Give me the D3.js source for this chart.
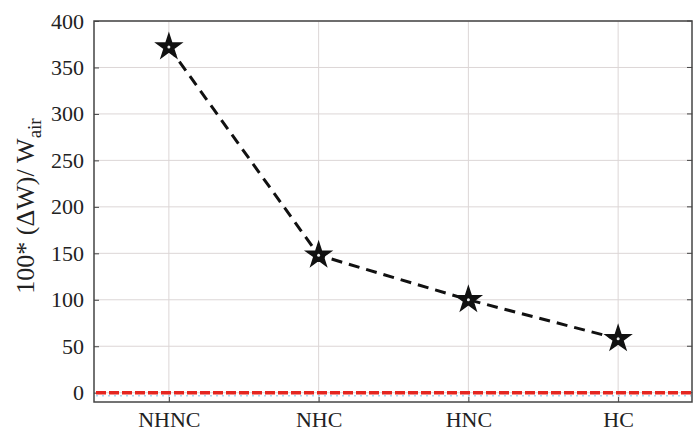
<!DOCTYPE html>
<html>
<head>
<meta charset="utf-8">
<script src="https://cdn.jsdelivr.net/npm/d3@7"></script>
<style>
  body { margin: 0; background: #fff; }
  text { font-family: "Liberation Serif", "DejaVu Serif", serif; fill: #222; }
</style>
</head>
<body>
<div id="chart"></div>
<script>
// data
var categories = ["NHNC", "NHC", "HNC", "HC"];
var values = [372, 148, 100, 58];
var baseline = [0, 0, 0, 0];
var yTicks = [0, 50, 100, 150, 200, 250, 300, 350, 400];

var width = 694, height = 434;
var margin = {top: 21, right: 1, bottom: 32, left: 94};
var w = width - margin.left - margin.right;
var h = height - margin.top - margin.bottom;

var svg = d3.select("#chart").append("svg")
    .attr("width", width)
    .attr("height", height);

var g = svg.append("g")
    .attr("transform", "translate(" + margin.left + "," + margin.top + ")");

var x = d3.scalePoint()
    .domain(categories)
    .range([0, w])
    .padding(0.5);

var y = d3.scaleLinear()
    .domain([-10, 400])
    .range([h, 0]);

//grid
g.selectAll(".hgrid")
    .data(yTicks)
    .enter().append("line")
    .attr("class", "hgrid")
    .attr("x1", 0).attr("x2", w)
    .attr("y1", function(d) { return y(d); })
    .attr("y2", function(d) { return y(d); })
    .attr("stroke", "#dcd6d6")
    .attr("stroke-width", 1);

g.selectAll(".vgrid")
    .data(categories)
    .enter().append("line")
    .attr("class", "vgrid")
    .attr("y1", 0).attr("y2", h)
    .attr("x1", function(d) { return x(d); })
    .attr("x2", function(d) { return x(d); })
    .attr("stroke", "#dcd6d6")
    .attr("stroke-width", 1);

//axes
var yAxis = d3.axisLeft(y).tickValues(yTicks).tickSize(-5).tickPadding(10);
var xAxis = d3.axisBottom(x).tickSize(-5).tickPadding(9);

var ya = g.append("g").call(yAxis);
ya.select(".domain").remove();
ya.selectAll("line").attr("stroke", "#444");
ya.selectAll("text").style("font-size", "22px").attr("fill", "#222");

var xa = g.append("g")
    .attr("transform", "translate(0," + h + ")")
    .call(xAxis);
xa.select(".domain").remove();
xa.selectAll("line").attr("stroke", "#444");
xa.selectAll("text").style("font-size", "22px").attr("fill", "#222");

//right side ticks
g.selectAll(".rtick")
    .data(yTicks)
    .enter().append("line")
    .attr("class", "rtick")
    .attr("x1", w - 1).attr("x2", w - 6)
    .attr("y1", function(d) { return y(d); })
    .attr("y2", function(d) { return y(d); })
    .attr("stroke", "#444");

//box
g.append("rect")
    .attr("x", 0).attr("y", 0)
    .attr("width", w - 1).attr("height", h)
    .attr("fill", "none")
    .attr("stroke", "#444")
    .attr("stroke-width", 1.5);

//zero lines
g.append("line")
    .attr("x1", 2).attr("x2", w - 2)
    .attr("y1", y(baseline[0])).attr("y2", y(baseline[0]))
    .attr("stroke", "#a8d8f0")
    .attr("stroke-width", 1.5)
    .style("stroke-dasharray", "2,4")
    .attr("transform", "translate(0,3)");

g.append("line")
    .attr("x1", 2).attr("x2", w - 2)
    .attr("y1", y(baseline[0])).attr("y2", y(baseline[0]))
    .attr("stroke", "#e52620")
    .attr("stroke-width", 3.5)
    .style("stroke-dasharray", "10,3");

//main series
var line = d3.line()
    .x(function(d, i) { return x(categories[i]); })
    .y(function(d) { return y(d); });

g.append("path")
    .datum(values)
    .attr("d", line)
    .attr("fill", "none")
    .attr("stroke", "#111")
    .attr("stroke-width", 3)
    .style("stroke-dasharray", "11,7");

var star = d3.symbol().type(d3.symbolStar).size(190);

g.selectAll(".pt")
    .data(values)
    .enter().append("path")
    .attr("class", "pt")
    .attr("d", star)
    .attr("transform", function(d, i) {
        return "translate(" + x(categories[i]) + "," + y(d) + ")";
    })
    .attr("fill", "#111")
    .attr("stroke", "#111")
    .attr("stroke-width", 1.5);

g.selectAll(".ptc")
    .data(values)
    .enter().append("circle")
    .attr("class", "ptc")
    .attr("cx", function(d, i) { return x(categories[i]); })
    .attr("cy", function(d) { return y(d); })
    .attr("r", 1.5)
    .attr("fill", "#eee");

//y label
var lab = svg.append("text")
    .attr("transform", "translate(34,206) rotate(-90)")
    .attr("text-anchor", "middle")
    .style("font-size", "26px");
lab.append("tspan").text("100* (\u0394W)/ W");
lab.append("tspan").attr("dy", 7).style("font-size", "19px").text("air");
</script>
</body>
</html>
